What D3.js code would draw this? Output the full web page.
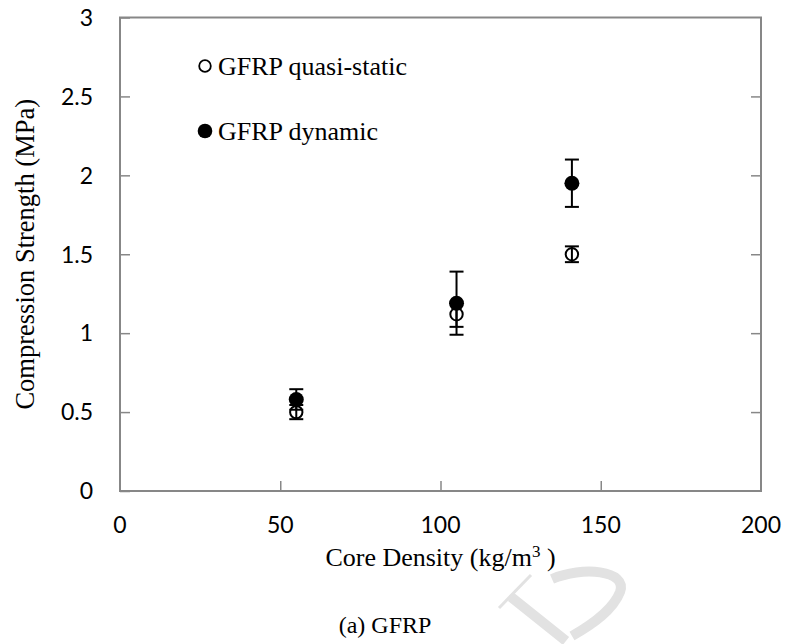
<!DOCTYPE html>
<html>
<head>
<meta charset="utf-8">
<script src="https://cdn.jsdelivr.net/npm/d3@7"></script>
<style>
  html, body { margin: 0; padding: 0; background: #fff; }
  svg { display: block; }
</style>
</head>
<body>
<svg id="chart" width="787" height="644"></svg>
<script>
// Core density of each panel (kg/m^3)
const density = [55, 105, 141];
// Quasi-static compression strength (MPa) and its error
const quasiStatic = [0.50, 1.12, 1.50];
const quasiStaticErr = [0.045, 0.08, 0.05];
// Dynamic compression strength (MPa) and its error
const dynamic = [0.58, 1.19, 1.95];
const dynamicErr = [0.065, 0.20, 0.15];
// Axis ticks
const xTicks = [0, 50, 100, 150, 200];
const yTicks = [0, 0.5, 1, 1.5, 2, 2.5, 3];
const yTickLabels = ["0", "0.5", "1", "1.5", "2", "2.5", "3"];
// Legend entries
const legendNames = ["GFRP quasi-static", "GFRP dynamic"];

const svg = d3.select("#chart");
const plotLeft = 120, plotRight = 761, plotTop = 17.5, plotBottom = 491;
const x = d3.scaleLinear().domain([0, 200]).range([plotLeft, plotRight]);
const y = d3.scaleLinear().domain([0, 3]).range([plotBottom, plotTop]);

const axisColor = "#878787";
const serif = "'Liberation Serif', 'Times New Roman', serif";
const sans = "Lato, 'Open Sans', sans-serif";

// plot frame
svg.append("rect")
  .attr("x", plotLeft).attr("y", plotTop)
  .attr("width", plotRight - plotLeft).attr("height", plotBottom - plotTop)
  .attr("fill", "none").attr("stroke", axisColor).attr("stroke-width", 2);

// left axis: inward ticks, labels on the outside
const yAxisL = svg.append("g").attr("transform", `translate(${plotLeft},0)`)
  .call(d3.axisRight(y).tickValues(yTicks).tickSize(10).tickFormat(""));
yAxisL.select(".domain").remove();
yAxisL.selectAll("line").attr("stroke", axisColor).attr("stroke-width", 1.5);

// right axis: inward ticks, no labels
const yAxisR = svg.append("g").attr("transform", `translate(${plotRight},0)`)
  .call(d3.axisLeft(y).tickValues(yTicks.slice(1, -1)).tickSize(10).tickFormat(""));
yAxisR.select(".domain").remove();
yAxisR.selectAll("line").attr("stroke", axisColor).attr("stroke-width", 1.5);

// bottom axis: inward ticks
const xAxis = svg.append("g").attr("transform", `translate(0,${plotBottom})`)
  .call(d3.axisTop(x).tickValues(xTicks.slice(1, -1)).tickSize(10).tickFormat(""));
xAxis.select(".domain").remove();
xAxis.selectAll("line").attr("stroke", axisColor).attr("stroke-width", 1.5);

// y tick labels
svg.append("g").selectAll("text").data(yTicks).join("text")
  .attr("x", 93).attr("y", d => y(d)).attr("dy", "0.36em")
  .attr("text-anchor", "end")
  .attr("font-family", sans).attr("font-size", 23).attr("fill", "#000")
  .text((d, i) => yTickLabels[i]);

// x tick labels
svg.append("g").selectAll("text").data(xTicks).join("text")
  .attr("x", d => x(d)).attr("y", 525).attr("dy", "0.36em")
  .attr("text-anchor", "middle")
  .attr("font-family", sans).attr("font-size", 23).attr("fill", "#000")
  .text(d => d);

// axis titles
svg.append("text")
  .attr("transform", `translate(25,${(plotTop + plotBottom) / 2}) rotate(-90)`)
  .attr("text-anchor", "middle").attr("dy", "0.35em")
  .attr("font-family", serif).attr("font-size", 26.5)
  .text("Compression Strength (MPa)");

const xt = svg.append("text")
  .attr("x", (plotLeft + plotRight) / 2).attr("y", 566)
  .attr("text-anchor", "middle")
  .attr("font-family", serif).attr("font-size", 26);
xt.append("tspan").text("Core Density (kg/m");
xt.append("tspan").attr("font-size", 17).attr("dy", -9).text("3");
xt.append("tspan").attr("dy", 9).text(" )");

// caption
svg.append("text")
  .attr("x", 385).attr("y", 633)
  .attr("text-anchor", "middle")
  .attr("font-family", serif).attr("font-size", 24)
  .text("(a) GFRP");

// faint background lettering
svg.append("g")
  .attr("fill", "none").attr("stroke", "#e2e2e2").attr("stroke-linecap", "butt")
  .selectAll("path")
  .data([
    {d: "M499,608 L531,575", w: 3},
    {d: "M511,597 L566,641", w: 10},
    {d: "M552,579 C582,566 628,570 620,592 C613,610 593,624 572,636", w: 10}
  ])
  .join("path").attr("d", p => p.d).attr("stroke-width", p => p.w);

// error bars
function errorBars(vals, errs, cls) {
  const g = svg.append("g").attr("class", cls)
    .attr("stroke", "#000").attr("stroke-width", 2);
  const cap = 7;
  vals.forEach((v, i) => {
    const cx = x(density[i]);
    g.append("line").attr("x1", cx).attr("x2", cx)
      .attr("y1", y(v - errs[i])).attr("y2", y(v + errs[i]));
    [v - errs[i], v + errs[i]].forEach(e => {
      g.append("line").attr("x1", cx - cap).attr("x2", cx + cap)
        .attr("y1", y(e)).attr("y2", y(e));
    });
  });
}

// quasi-static series (open markers)
errorBars(quasiStatic, quasiStaticErr, "err-qs");
svg.append("g").selectAll("circle").data(quasiStatic).join("circle")
  .attr("cx", (d, i) => x(density[i])).attr("cy", d => y(d))
  .attr("r", 6.2).attr("fill", "none").attr("stroke", "#000").attr("stroke-width", 2);

// dynamic series (filled markers)
errorBars(dynamic, dynamicErr, "err-dyn");
svg.append("g").selectAll("circle").data(dynamic).join("circle")
  .attr("cx", (d, i) => x(density[i])).attr("cy", d => y(d))
  .attr("r", 7.5).attr("fill", "#000");

// legend
const legend = svg.append("g");
legendNames.forEach((name, i) => {
  const ly = 66 + i * 65;
  if (i === 0) {
    legend.append("circle").attr("cx", 205).attr("cy", ly).attr("r", 5.8)
      .attr("fill", "none").attr("stroke", "#000").attr("stroke-width", 1.8);
  } else {
    legend.append("circle").attr("cx", 205).attr("cy", ly).attr("r", 7.3)
      .attr("fill", "#000");
  }
  legend.append("text").attr("x", 218).attr("y", ly).attr("dy", "0.33em")
    .attr("font-family", serif).attr("font-size", 26).text(name);
});
</script>
</body>
</html>
